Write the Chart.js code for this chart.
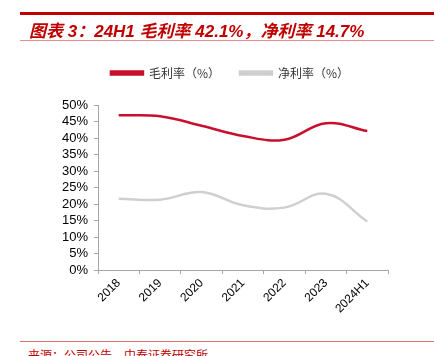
<!DOCTYPE html>
<html><head><meta charset="utf-8">
<script src="https://cdn.jsdelivr.net/npm/chart.js@4/dist/chart.umd.min.js"></script>
<style>
html,body{margin:0;padding:0;background:#fff;width:434px;height:356px;overflow:hidden;font-family:"Liberation Sans",Arial,"Noto Sans CJK SC",sans-serif;}
#topline{position:absolute;left:20px;top:12px;width:414px;height:3px;background:#c00000;}
#title{position:absolute;left:29px;top:17px;font-size:17px;font-weight:bold;font-style:italic;color:#c00000;white-space:nowrap;font-family:"Liberation Sans",Arial,"Noto Sans CJK SC",sans-serif;}
#subline{position:absolute;left:20px;top:40px;width:414px;height:1px;background:#e89090;}
#wrap{position:absolute;left:0;top:35px;width:434px;height:305px;}
#footline{position:absolute;left:20px;top:341px;width:414px;height:1px;background:#e07070;}
#foot{position:absolute;left:28px;top:346px;font-size:12px;color:#c00000;white-space:nowrap;font-family:"Noto Sans CJK SC",sans-serif;}
</style></head>
<body>
<div id="wrap"><canvas id="c" width="434" height="305" style="width:434px;height:305px"></canvas></div>
<div id="topline"></div>
<div id="title">图表 3：24H1 毛利率 42.1%，净利率 14.7%</div>
<div id="subline"></div>
<div id="footline"></div>
<div id="foot">来源：公司公告，中泰证券研究所</div>
<script>
const categories = ["2018","2019","2020","2021","2022","2023","2024H1"];
const grossMargin = [46.9, 46.6, 43.7, 40.6, 39.5, 44.5, 42.1];
const netMargin = [21.6, 21.3, 23.6, 19.6, 18.9, 23.1, 14.7];
const seriesNames = ["毛利率（%）", "净利率（%）"];
const yTicks = [0,5,10,15,20,25,30,35,40,45,50];

const legendGap = {
  id: 'legendGap',
  beforeInit(chart) {
    const lg = chart.legend;
    if (!lg) return;
    const orig = lg.fit;
    lg.fit = function() { orig.call(this); this.height += 16; };
  },
  afterLayout(chart) {
    const lg = chart.legend;
    if (!lg) return;
    lg.left += 36; lg.right += 36;
  }
};

new Chart(document.getElementById('c'), {
  type: 'line',
  data: {
    labels: categories,
    datasets: [
      {label: seriesNames[0], data: grossMargin, borderColor: '#c8102e', backgroundColor: '#c8102e', borderWidth: 2.5, pointRadius: 0, tension: 0.4},
      {label: seriesNames[1], data: netMargin, borderColor: '#cfcfcf', backgroundColor: '#cfcfcf', borderWidth: 2.5, pointRadius: 0, tension: 0.4}
    ]
  },
  plugins: [legendGap],
  options: {
    responsive: false,
    animation: false,
    maintainAspectRatio: false,
    layout: {padding: {left: 0, right: 46, top: 12, bottom: 0}},
    plugins: {
      legend: {
        display: true,
        position: 'top',
        labels: {boxWidth: 32, boxHeight: 3, padding: 20, color: '#333', font: {size: 12, family: '"Noto Sans CJK SC", sans-serif'}}
      },
      tooltip: {enabled: false}
    },
    scales: {
      x: {
        offset: true,
        grid: {display: true, drawOnChartArea: false, drawTicks: true, tickLength: 4, color: '#a6a6a6', offset: true},
        border: {color: '#a6a6a6', width: 1},
        ticks: {maxRotation: 45, minRotation: 45, autoSkip: false, color: '#000', font: {size: 12, family: '"Liberation Sans", Arial'}, padding: 2},
        afterFit: s => { s.height = 70; }
      },
      y: {
        min: 0, max: 50,
        afterBuildTicks: s => { s.ticks = yTicks.map(v => ({value: v})); },
        grid: {display: true, drawOnChartArea: false, drawTicks: true, tickLength: 4, color: '#a6a6a6'},
        border: {color: '#a6a6a6', width: 1},
        ticks: {autoSkip: false, color: '#000', font: {size: 13, family: '"Liberation Sans", Arial'}, padding: 6, callback: v => v + '%'},
        afterFit: s => { s.width = 98; }
      }
    }
  }
});
</script>
</body></html>
